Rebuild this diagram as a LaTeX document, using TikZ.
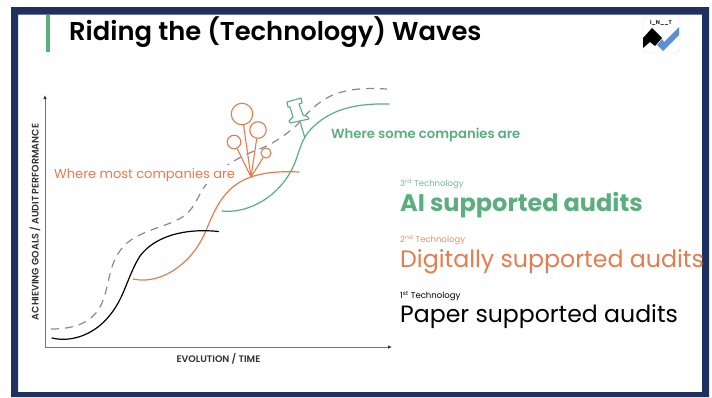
\documentclass[tikz,border=0pt]{standalone}
\usepackage{fontspec}
\setmainfont{Poppins}
\newfontfamily\psemi{Poppins SemiBold}
\definecolor{navy}{HTML}{1F3160}
\definecolor{wgreen}{HTML}{5BAE7E}
\definecolor{worange}{HTML}{E87B4C}
\definecolor{dashgray}{HTML}{8A8A8E}
\definecolor{logoblue}{HTML}{5B8FD6}
\usetikzlibrary{arrows.meta}
\tikzset{
 curve/.style={line width=1.2pt,line cap=round},
 label/.style={anchor=base west,inner sep=0pt},
 axis/.style={draw=black!55,line width=0.9pt,-{Latex[length=4pt,width=3.5pt,color=black!80]}},
 pin/.style={draw=worange,line width=1.1pt},
}
\begin{document}
\begin{tikzpicture}[x=1pt,y=-1pt]
\useasboundingbox (0,0) rectangle (712,397);
\fill[white] (0,0) rectangle (712,397);
\fill[navy,even odd rule] (11,7) rectangle (709,397) (18,14.5) rectangle (702,392);
\fill[wgreen] (45.5,14.5) rectangle (50,52);
\node[label,font=\fontsize{25.8}{26}\psemi] (title) at (69,40) {Riding the (Technology) Waves};
% logo
\fill[white,draw=black!10,rounded corners=4pt] (643,16) rectangle (680,53);
\node[font=\fontsize{5.5}{6}\psemi,inner sep=0pt] (logotxt) at (661,23) {I\_N\_\_T};
\fill[black] (643,38) -- (652,28) -- (662,38) -- (655,46) -- (650,42) -- (643,48) -- cycle;
\fill[logoblue] (657,45) -- (662,39) -- (664,42) -- (679,27) -- (679,35) -- (663,51) -- cycle;
% axes
\coordinate (o) at (45,347);
\coordinate (yt) at (45,95);
\coordinate (xr) at (392,347);
\draw[axis] (o) -- (yt);
\draw[axis] (o) -- (xr);
\node[font=\fontsize{9.5}{10}\psemi,rotate=90,text=black!80] (ylab) at (35,222) {ACHIEVING GOALS / AUDIT PERFORMANCE};
\node[font=\fontsize{9.5}{10}\psemi,text=black!80] (xlab) at (218.5,358.5) {EVOLUTION / TIME};
% dashed
\draw[dashgray,line width=1.2pt,dash pattern=on 8pt off 6pt]
 (51,329) .. controls (70,329) and (90,325) .. (100,307)
 .. controls (110,289) and (107,265) .. (123,247)
 .. controls (135,233) and (160,228) .. (175,221)
 .. controls (195,212) and (195,200) .. (205,186)
 .. controls (215,172) and (235,158) .. (257,150)
 .. controls (275,143.5) and (289,132) .. (297,125)
 .. controls (305,115) and (318,101) .. (333,95)
 .. controls (350,88) and (368,88) .. (387,89);
\node[label,text=worange,font=\fontsize{13}{14}\selectfont,fill=white,inner ysep=3pt] (most) at (54,178) {Where most companies are};
% green
\draw[curve,wgreen] (222,211) .. controls (250,214) and (280,195) .. (293,167)
 .. controls (300,152) and (300,140) .. (312,128)
 .. controls (328,112) and (350,103) .. (389,104);
% orange
\draw[curve,worange] (133,279) .. controls (160,285) and (190,265) .. (204,235)
 .. controls (211,220) and (218,195) .. (240,182)
 .. controls (257,172) and (280,171) .. (299,172);
% black
\draw[curve,black] (52,338) .. controls (72,343) and (105,335) .. (123,293)
 .. controls (129,279) and (133,267) .. (140,256)
 .. controls (155,236) and (185,228) .. (218.5,231.5);
% pins
\coordinate (root) at (251,177);
\node[pin,circle,minimum size=21.5pt,inner sep=0pt] (c1) at (242,114) {};
\node[pin,circle,minimum size=16.5pt,inner sep=0pt] (c2) at (258,130) {};
\node[pin,circle,minimum size=13.5pt,inner sep=0pt] (c3) at (234,142) {};
\node[pin,circle,minimum size=10pt,inner sep=0pt] (c4) at (266,153) {};
\draw[pin] (root) -- (c1);
\draw[pin] (root) -- (c2);
\draw[pin] (root) -- (c3);
\draw[pin] (root) -- (c4);
% push pin
\coordinate (pinend) at (305,138);
\draw[wgreen,line width=1.1pt,line join=round,fill=white] (287,102) -- (301,98) -- (302,103) -- (299,104) -- (303,115) -- (308,117) -- (309,119) -- (290,123) -- (289,121) -- (293,117) -- (290,107) -- (288,107) -- cycle;
\coordinate (pinbase) at (300,122);
\draw[wgreen,line width=1.1pt] (pinbase) -- (pinend);
% labels
\node[label,text=wgreen,font=\fontsize{13.2}{14}\psemi] (some) at (331,138) {Where some companies are};
\node[label,text=wgreen!85!white,font=\fontsize{8.5}{9}\selectfont] (t3) at (400,186) {3\textsuperscript{rd} Technology};
\node[label,text=wgreen,font=\fontsize{24}{26}\selectfont\bfseries] (a3) at (400,211) {AI supported audits};
\node[label,text=worange!85!white,font=\fontsize{8.5}{9}\selectfont] (t2) at (400,242) {2\textsuperscript{nd} Technology};
\node[label,text=worange,font=\fontsize{23.7}{26}\selectfont] (a2) at (400,267) {Digitally supported audits};
\node[label,text=black,font=\fontsize{8.5}{9}\selectfont] (t1) at (400,298) {1\textsuperscript{st} Technology};
\node[label,text=black,font=\fontsize{23.6}{26}\selectfont] (a1) at (400,322.5) {Paper supported audits};
\end{tikzpicture}
\end{document}
